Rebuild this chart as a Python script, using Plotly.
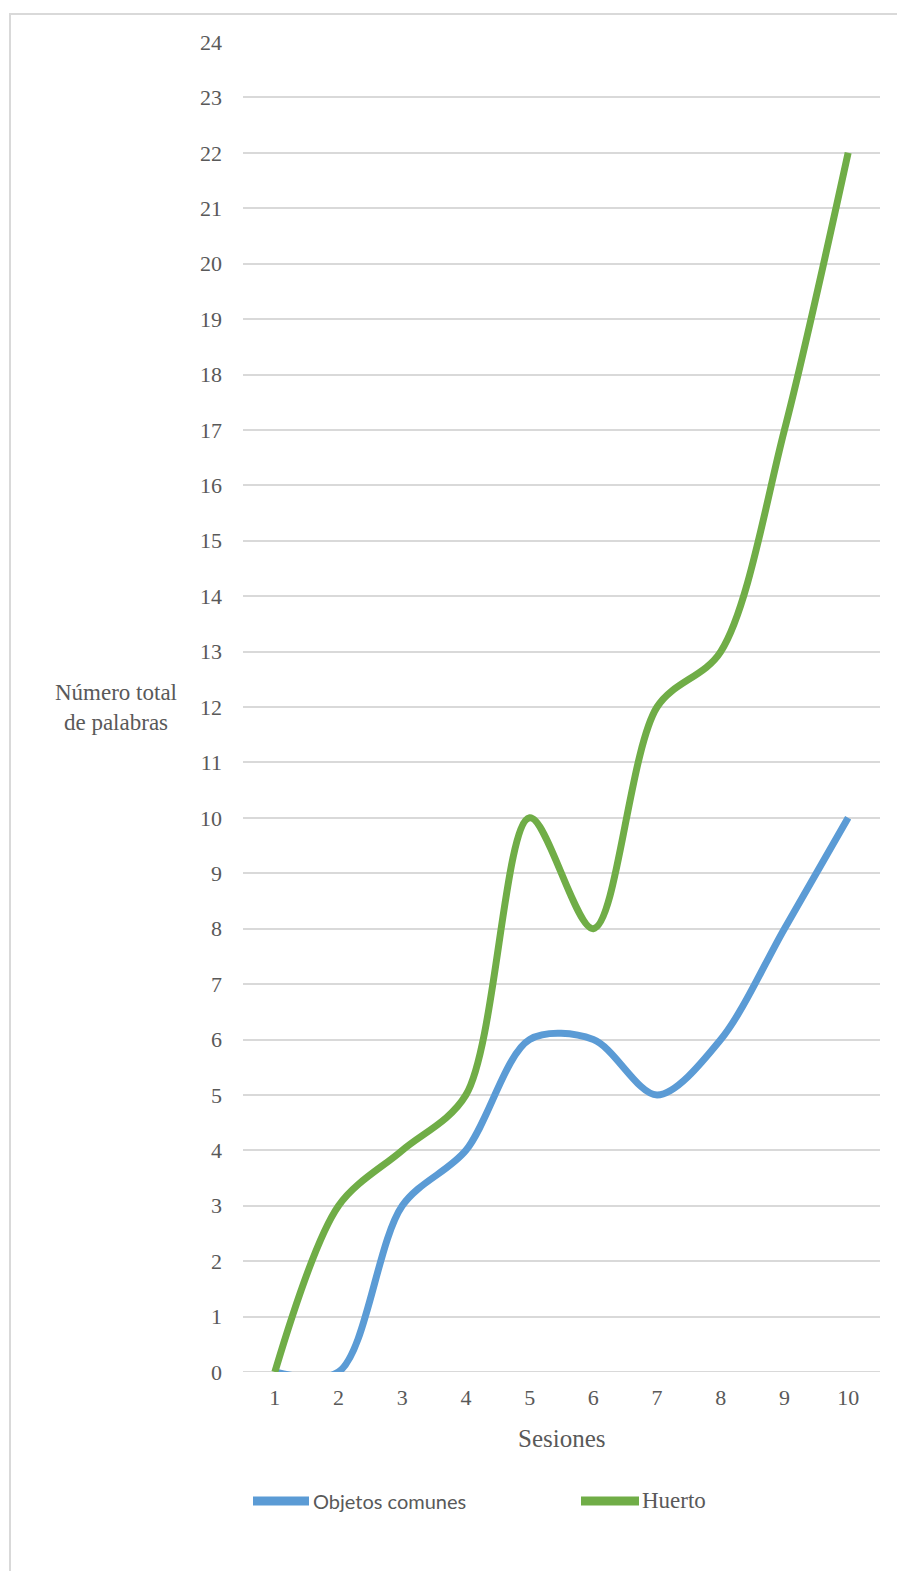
import plotly.graph_objects as go

sesiones = ["1", "2", "3", "4", "5", "6", "7", "8", "9", "10"]
objetos_comunes = [0, 0, 3, 4, 6, 6, 5, 6, 8, 10]
huerto = [0, 3, 4, 5, 10, 8, 12, 13, 17, 22]
y_ticks = list(range(0, 25))

BLUE = "#5b9bd5"
GREEN = "#70ad47"
GRAY = "#595959"
GRID = "#d9d9d9"
SERIF = "Liberation Serif"
SANS = "Lato"

W, H = 897, 1571
L, R, T, B = 243, 17, 42, 199
pw, ph = W - L - R, H - T - B

def px_x(x):
    return (x - L) / pw

def px_y(y):
    return (H - B - y) / ph

fig = go.Figure()
fig.add_trace(go.Scatter(x=sesiones, y=objetos_comunes, mode="lines", name="Objetos comunes",
                         line=dict(color=BLUE, width=7, shape="spline", smoothing=0.9), showlegend=False))
fig.add_trace(go.Scatter(x=sesiones, y=huerto, mode="lines", name="Huerto",
                         line=dict(color=GREEN, width=7, shape="spline", smoothing=0.9), showlegend=False))

fig.update_layout(
    width=W, height=H,
    margin=dict(l=L, r=R, t=T, b=B),
    paper_bgcolor="white", plot_bgcolor="white",
    font=dict(family=SERIF, size=22, color=GRAY),
    xaxis=dict(type="category", range=[-0.5, 9.5], showgrid=False, showline=False,
               zeroline=False, ticks="", ticklabelstandoff=10,
               tickfont=dict(family=SERIF, size=22, color=GRAY)),
    yaxis=dict(range=[0, 24], tickvals=y_ticks, showgrid=True, gridcolor=GRID, gridwidth=1.5,
               zeroline=False, showline=False, ticks="", ticklabelstandoff=20,
               tickfont=dict(family=SERIF, size=22, color=GRAY)),
)

# border
fig.add_shape(type="rect", xref="paper", yref="paper",
              x0=px_x(10), x1=px_x(905), y0=px_y(14), y1=px_y(1580),
              line=dict(color=GRID, width=2), fillcolor="rgba(0,0,0,0)", layer="below")
# baseline
fig.add_shape(type="line", xref="paper", yref="y", x0=0, x1=1, y0=0, y1=0,
              line=dict(color=GRID, width=2), layer="below")

# y title
fig.add_annotation(text="Número total<br>de palabras", xref="paper", yref="paper",
                   x=px_x(116), y=px_y(708), xanchor="center", yanchor="middle",
                   showarrow=False, align="center",
                   font=dict(family=SERIF, size=23, color=GRAY))
# x title
fig.add_annotation(text="Sesiones", xref="paper", yref="paper",
                   x=px_x(562), y=px_y(1438), xanchor="center", yanchor="middle", showarrow=False,
                   font=dict(family=SERIF, size=25, color=GRAY))

# legend
ly = px_y(1501)
fig.add_shape(type="line", xref="paper", yref="paper", x0=px_x(253), x1=px_x(309), y0=ly, y1=ly,
              line=dict(color=BLUE, width=9))
fig.add_annotation(text="Objetos comunes", xref="paper", yref="paper", x=px_x(311), y=ly,
                   xanchor="left", yanchor="middle", showarrow=False,
                   font=dict(family=SANS, size=20, color=GRAY))
fig.add_shape(type="line", xref="paper", yref="paper", x0=px_x(581), x1=px_x(639), y0=ly, y1=ly,
              line=dict(color=GREEN, width=9))
fig.add_annotation(text="Huerto", xref="paper", yref="paper", x=px_x(640), y=ly,
                   xanchor="left", yanchor="middle", showarrow=False,
                   font=dict(family=SERIF, size=23, color=GRAY))

fig.write_html("out.html")
